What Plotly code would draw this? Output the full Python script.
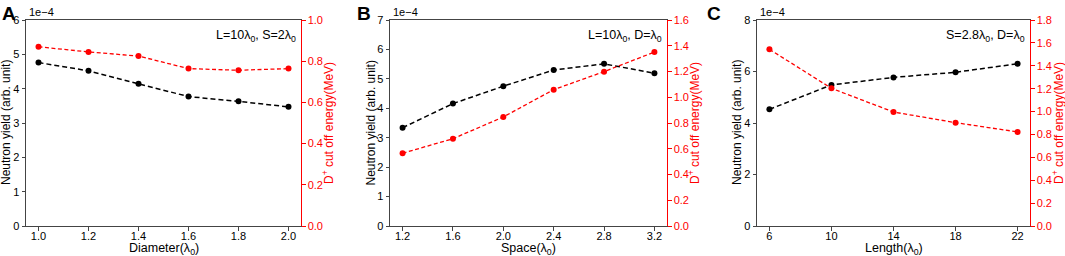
import plotly.graph_objects as go

# Panel A: varying diameter (L=10λ0, S=2λ0)
diameter = [1.0, 1.2, 1.4, 1.6, 1.8, 2.0]
yield_A = [4.76, 4.52, 4.14, 3.77, 3.63, 3.47]          # ×1e-4
energy_A = [0.870, 0.845, 0.825, 0.764, 0.756, 0.764]   # MeV

# Panel B: varying space (L=10λ0, D=λ0)
space = [1.2, 1.6, 2.0, 2.4, 2.8, 3.2]
yield_B = [3.34, 4.16, 4.75, 5.30, 5.51, 5.19]          # ×1e-4
energy_B = [0.565, 0.678, 0.847, 1.059, 1.199, 1.351]   # MeV

# Panel C: varying length (S=2.8λ0, D=λ0)
length = [6, 10, 14, 18, 22]
yield_C = [4.53, 5.48, 5.77, 5.97, 6.30]                # ×1e-4
energy_C = [1.544, 1.203, 0.996, 0.903, 0.822]          # MeV

panel_letters = ["A", "B", "C"]
conditions = ["L=10λ<sub>0</sub>, S=2λ<sub>0</sub>",
              "L=10λ<sub>0</sub>, D=λ<sub>0</sub>",
              "S=2.8λ<sub>0</sub>, D=λ<sub>0</sub>"]
xtitles = ["Diameter(λ<sub>0</sub>)", "Space(λ<sub>0</sub>)", "Length(λ<sub>0</sub>)"]
ytitle_left = "Neutron yield (arb. unit)"
ytitle_right = "D<sup>+</sup> cut off energy(MeV)"

W, H = 1065, 256
FONT = "Liberation Sans, Arial, Helvetica, sans-serif"
RED = "#ff0000"
AX = "#444444"

panels = [
    dict(x=diameter, y=yield_A, e=energy_A, px=(26, 301), xr=(0.95, 2.05), xt=diameter,
         xfmt=".1f", yr=(0, 6), ydt=1, er=(0, 1.0), lt=6, rt=328, letter=0),
    dict(x=space, y=yield_B, e=energy_B, px=(390, 667), xr=(1.1, 3.3), xt=space,
         xfmt=".1f", yr=(0, 7), ydt=1, er=(0, 1.6), lt=370.5, rt=694, letter=355),
    dict(x=length, y=yield_C, e=energy_C, px=(757, 1030), xr=(5.2, 22.8), xt=length,
         xfmt="d", yr=(0, 8), ydt=2, er=(0, 1.8), lt=737, rt=1058, letter=705),
]

top_px, bot_px = 20, 226
ydom = [1 - bot_px / H, 1 - top_px / H]
ymid = 1 - (top_px + bot_px) / 2 / H

fig = go.Figure()
layout = {}
annotations = []

for i, p in enumerate(panels):
    xa = "x" if i == 0 else f"x{i+1}"
    yl_n = 2 * i + 1
    yr_n = 2 * i + 2
    yl = "y" if yl_n == 1 else f"y{yl_n}"
    yr = f"y{yr_n}"

    fig.add_trace(go.Scatter(
        x=p["x"], y=p["y"], xaxis=xa, yaxis=yl, mode="lines+markers",
        line=dict(color="black", width=1.5, dash="5px,3px"),
        marker=dict(color="black", size=6), showlegend=False))
    fig.add_trace(go.Scatter(
        x=p["x"], y=p["e"], xaxis=xa, yaxis=yr, mode="lines+markers",
        line=dict(color=RED, width=1.3, dash="4px,2.5px"),
        marker=dict(color=RED, size=6), showlegend=False))

    xd = [p["px"][0] / W, p["px"][1] / W]
    xkey = "xaxis" if i == 0 else f"xaxis{i+1}"
    ylkey = "yaxis" if yl_n == 1 else f"yaxis{yl_n}"
    yrkey = f"yaxis{yr_n}"

    layout[xkey] = dict(
        domain=xd, anchor=yl, range=list(p["xr"]), tickvals=p["xt"], tickformat=p["xfmt"],
        showline=True, linecolor=AX, linewidth=1, mirror=True, showgrid=False, zeroline=False,
        ticks="outside", ticklen=3.5, tickcolor=AX, tickfont=dict(size=11, color="black"),
        ticklabelstandoff=-4, automargin=False)
    layout[ylkey] = dict(
        domain=ydom, anchor=xa, range=list(p["yr"]), dtick=p["ydt"], tick0=0,
        showline=True, linecolor=AX, linewidth=1, showgrid=False, zeroline=False,
        ticks="outside", ticklen=3.5, tickcolor=AX, tickfont=dict(size=11, color="black"),
        automargin=False)
    layout[yrkey] = dict(
        domain=ydom, anchor=xa, overlaying=yl, side="right", range=list(p["er"]), dtick=0.2,
        tick0=0, tickformat=".1f",
        showline=True, linecolor=RED, linewidth=1, showgrid=False, zeroline=False,
        ticks="outside", ticklen=3.5, tickcolor=RED, tickfont=dict(size=11, color=RED),
        automargin=False)

    # axis titles
    annotations.append(dict(
        x=(p["px"][0] + p["px"][1]) / 2 / W, y=1 - 248.5 / H, xref="paper", yref="paper",
        xanchor="center", yanchor="middle", text=xtitles[i], showarrow=False,
        font=dict(size=12.5, color="black", family=FONT)))
    annotations.append(dict(
        x=p["lt"] / W, y=ymid, xref="paper", yref="paper", textangle=-90,
        xanchor="center", yanchor="middle", text=ytitle_left, showarrow=False,
        font=dict(size=12, color="black", family=FONT)))
    annotations.append(dict(
        x=p["rt"] / W, y=ymid, xref="paper", yref="paper", textangle=-90,
        xanchor="center", yanchor="middle", text=ytitle_right, showarrow=False,
        font=dict(size=12, color=RED, family=FONT)))

    # panel letter
    annotations.append(dict(
        x=p["letter"] / W, y=1 - 1 / H, xref="paper", yref="paper", xanchor="left", yanchor="top",
        text=f"<b>{panel_letters[i]}</b>", showarrow=False,
        font=dict(size=19, color="black", family=FONT)))
    # offset label
    annotations.append(dict(
        x=(p["px"][0] + 1) / W, y=1 - top_px / H, xref="paper", yref="paper",
        xanchor="left", yanchor="bottom", text="1e−4", showarrow=False,
        font=dict(size=11, color="black", family=FONT)))
    # condition text
    annotations.append(dict(
        x=(p["px"][1] - 3) / W, y=1 - 36 / H, xref="paper", yref="paper",
        xanchor="right", yanchor="middle", text=conditions[i], showarrow=False,
        font=dict(size=12.5, color="black", family=FONT)))

fig.update_layout(
    width=W, height=H, margin=dict(l=0, r=0, t=0, b=0, autoexpand=False),
    paper_bgcolor="white", plot_bgcolor="white",
    font=dict(family=FONT, color="black"),
    annotations=annotations, **layout)

fig.write_html("out.html", config={"displayModeBar": False},
               post_script="document.body.style.margin='0';document.body.style.padding='0';")
